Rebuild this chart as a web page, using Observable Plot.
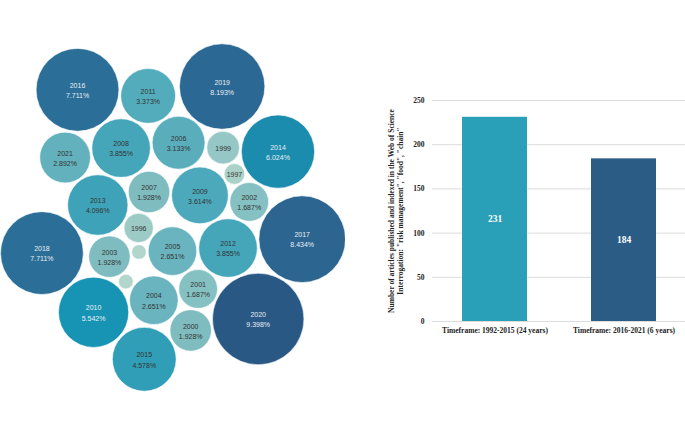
<!DOCTYPE html>
<html>
<head>
<meta charset="utf-8">
<script src="https://cdn.jsdelivr.net/npm/d3@7"></script>
<script src="https://cdn.jsdelivr.net/npm/@observablehq/plot@0.6"></script>
<style>
  body { margin: 0; background: #fff; }
  #wrap { display: flex; width: 685px; height: 434px; overflow: hidden; }
  #wrap svg { display: block; }
</style>
</head>
<body>
<div id="wrap"></div>
<script>
// ---- Data ----
const years  = [1992, 1996, 1997, 1998, 1999, 2000, 2001, 2002, 2003, 2004, 2005, 2006, 2007, 2008,
                2009, 2010, 2011, 2012, 2013, 2014, 2015, 2016, 2017, 2018, 2019, 2020, 2021];
const counts = [1, 4, 2, 1, 5, 8, 7, 7, 8, 11, 11, 13, 8, 16,
                15, 23, 14, 16, 17, 25, 19, 32, 35, 32, 34, 39, 12];
const periods = ["Timeframe: 1992-2015 (24 years)", "Timeframe: 2016-2021 (6 years)"];
const periodTotals = [231, 184];
const yTicks = [0, 50, 100, 150, 200, 250];
const yTitle = "Number of articles published and indexed in the Web of Science\nInterrogation: \"risk management\", \"food\", \"chain\"";

const total = d3.sum(counts);

// ---- Bubble layout (computed by d3-force: small bubbles inside, big ones outside) ----
const W1 = 345, H1 = 434;
const rScale = d3.scaleSqrt().domain([0, 39]).range([0, 53]);
const nodes = years.map((y, i) => ({year: y, count: counts[i], r: rScale(counts[i])}));

function ellipticRadial(ax, ay, strength) {
  let ns;
  function force(alpha) {
    for (const n of ns) {
      const rho = Math.max(0, (n.r - 15) * 3.9);
      const th = Math.atan2(n.y / ay, n.x / ax);
      const tx = rho * ax * Math.cos(th), ty = rho * ay * Math.sin(th);
      n.vx += (tx - n.x) * strength * alpha;
      n.vy += (ty - n.y) * strength * alpha;
    }
  }
  force.initialize = _ => ns = _;
  return force;
}

const sim = d3.forceSimulation(nodes)
  .force("radial", ellipticRadial(1, 1, 0.08))
  .force("collide", d3.forceCollide(d => d.r + 1.2).strength(1).iterations(4))
  .stop();
for (let i = 0; i < 400; ++i) sim.tick();

// orient: the heaviest recent bubbles (2016-2019) on top, in chronological order left to right
const cx0 = d3.mean(nodes, d => d.x), cy0 = d3.mean(nodes, d => d.y);
const recent = nodes.filter(d => d.year >= 2016 && d.year <= 2019);
const ang = Math.atan2(d3.mean(recent, d => d.y) - cy0, d3.mean(recent, d => d.x) - cx0);
const rot = -Math.PI / 2 - ang;
for (const n of nodes) {
  const dx = n.x - cx0, dy = n.y - cy0;
  n.x = dx * Math.cos(rot) - dy * Math.sin(rot);
  n.y = dx * Math.sin(rot) + dy * Math.cos(rot);
  n.vx = 0; n.vy = 0;
}
const n16 = nodes.find(d => d.year === 2016), n19 = nodes.find(d => d.year === 2019);
if (n16.x > n19.x) for (const n of nodes) n.x = -n.x;

// second phase: settle into a tall ellipse
sim.force("radial", ellipticRadial(0.62, 1.32, 0.12)).alpha(0.8).alphaDecay(0.007);
for (let i = 0; i < 600; ++i) sim.tick();

const minX = d3.min(nodes, d => d.x - d.r), maxX = d3.max(nodes, d => d.x + d.r);
const minY = d3.min(nodes, d => d.y - d.r), maxY = d3.max(nodes, d => d.y + d.r);
const s = Math.min(1, W1 / (maxX - minX), H1 / (maxY - minY));
for (const n of nodes) {
  n.px = (n.x - (minX + maxX) / 2) * s + W1 / 2;
  n.py = (n.y - (minY + maxY) / 2) * s + H1 / 2;
  n.pr = n.r * s;
  n.pct = (n.count / total * 100).toFixed(3) + "%";
  n.label = n.count >= 7 ? `${n.year}\n${n.pct}` : n.count >= 2 ? String(n.year) : "";
}

const bubbles = Plot.plot({
  width: W1, height: H1, margin: 0,
  x: {type: "identity", axis: null},
  y: {type: "identity", axis: null},
  r: {type: "identity"},
  color: {type: "linear", domain: [1, 8, 16, 23, 32, 39],
          range: ["#b2d6cb", "#7ebcc0", "#45a6ba", "#1794b4", "#2b6f98", "#2a5885"]},
  marks: [
    Plot.dot(nodes, {x: "px", y: "py", r: "pr", fill: "count", stroke: "white", strokeWidth: 0.6}),
    Plot.text(nodes, {x: "px", y: "py", text: "label", fontSize: 7, lineHeight: 1.45,
      fontFamily: "Liberation Sans, Arial, sans-serif",
      fill: d => d.count >= 20 ? "#e8eef4" : "#333333"})
  ]
});

// ---- Bar chart ----
const barData = periods.map((p, i) => ({period: p, total: periodTotals[i]}));
const bars = Plot.plot({
  width: 340, height: 434,
  marginLeft: 87, marginRight: 0, marginTop: 100, marginBottom: 113,
  style: {fontFamily: "Liberation Serif, 'Times New Roman', serif", fontWeight: "bold", fontSize: "7.5px", color: "#222"},
  x: {domain: periods, paddingInner: 0.5, paddingOuter: 0.23, label: null, tickSize: 0, tickPadding: 6},
  y: {domain: [0, 250], ticks: yTicks, label: null, tickSize: 0, tickPadding: 8},
  color: {domain: periods, range: ["#2a9fb8", "#2a5c85"]},
  marks: [
    Plot.gridY(yTicks, {stroke: "#dcdcdc", strokeOpacity: 1}),
    Plot.barY(barData, {x: "period", y: "total", fill: "period"}),
    Plot.text(barData, {x: "period", y: d => d.total / 2, text: d => String(d.total),
      fill: "white", fontSize: 9.5, fontWeight: "bold"}),
    Plot.text([yTitle], {frameAnchor: "left", textAnchor: "middle", rotate: -90, dx: -37, text: d => d,
      lineHeight: 1.3, fontSize: 7.5, fontWeight: "bold", fill: "#222"})
  ]
});

const wrap = document.getElementById("wrap");
wrap.appendChild(bubbles);
wrap.appendChild(bars);
</script>
</body>
</html>
